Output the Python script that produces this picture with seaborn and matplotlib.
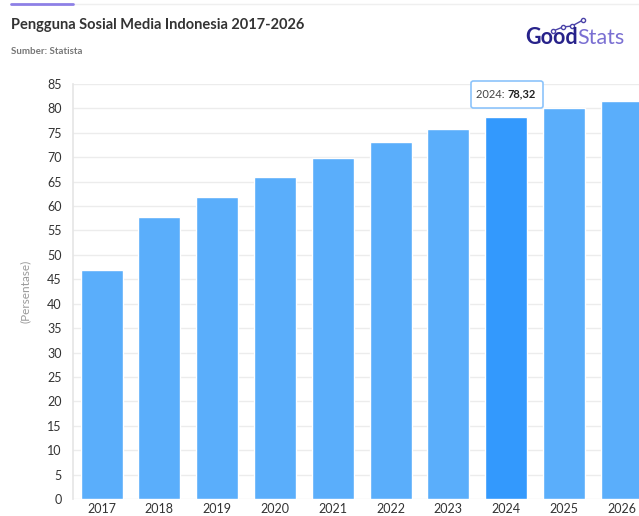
import numpy as np
import pandas as pd
import matplotlib
matplotlib.use("Agg")
import matplotlib.pyplot as plt
import seaborn as sns
from matplotlib.lines import Line2D
from matplotlib.patches import FancyBboxPatch

# data
years = ["2017", "2018", "2019", "2020", "2021", "2022", "2023", "2024", "2025", "2026"]
pengguna = [46.9, 57.8, 61.8, 66.0, 69.9, 73.1, 75.8, 78.32, 80.0, 81.6]
highlight = "2024"
yticks = list(range(0, 90, 5))

df = pd.DataFrame({"tahun": years, "persen": pengguna})

sns.set_theme(style="white")
plt.rcParams["font.family"] = ["Lato", "DejaVu Sans"]

col_bar = "#5aaefb"
col_hi = "#3399fd"
palette = {y: (col_hi if y == highlight else col_bar) for y in years}

fig = plt.figure(figsize=(6.39, 5.16), dpi=100)
# axes runs past the right edge, like the cropped screenshot
ax = fig.add_axes([72.7 / 639, 17 / 516, 578 / 639, 415 / 516])

sns.barplot(data=df, x="tahun", y="persen", hue="tahun", palette=palette,
            width=0.73, legend=False, ax=ax, saturation=1)

ax.set_ylim(0, 85)
ax.set_xlim(-0.5, len(years) - 0.5)
ax.set_yticks(yticks)
ax.set_yticklabels([str(t) for t in yticks])
ax.yaxis.grid(True, color="#ececec", lw=1)
ax.set_axisbelow(True)
for s in ["top", "right", "bottom"]:
    ax.spines[s].set_visible(False)
ax.spines["left"].set_color("#e6e6e6")
ax.tick_params(axis="y", length=5, color="#e0e0e0", labelsize=9, labelcolor="#333333", pad=3)
ax.tick_params(axis="x", length=0, labelsize=9, labelcolor="#333333", pad=3)
ax.set_xlabel("")
ax.set_ylabel("(Persentase)", fontsize=8.5, color="#999999", labelpad=12)


def text_after(t, s, **kw):
    # put a second text right after an existing figure text
    fig.canvas.draw()
    bb = t.get_window_extent()
    x = bb.x1 / fig.bbox.width
    y = t.get_position()[1]
    return fig.text(x, y, s, va="center", **kw)


# tooltip on the highlighted bar
i_hi = years.index(highlight)
box = FancyBboxPatch((471 / 639, (516 - 108) / 516), 72 / 639, 27 / 516,
                     boxstyle="round,pad=0,rounding_size=0.004",
                     transform=fig.transFigure, fc="white", ec="#8cc4fb", lw=1.2, zorder=5)
fig.add_artist(box)
t1 = fig.text(476 / 639, (516 - 94) / 516, highlight + ": ", fontsize=8,
              color="#444444", va="center", zorder=6)
text_after(t1, f"{pengguna[i_hi]:.2f}".replace(".", ","), fontsize=8,
           fontweight="bold", color="#222222", zorder=6)

# header
fig.text(11 / 639, (516 - 25) / 516, "Pengguna Sosial Media Indonesia 2017-2026",
         fontsize=10.5, fontweight="bold", color="#333333", va="center")
fig.text(11 / 639, (516 - 51) / 516, "Sumber: Statista", fontsize=7,
         fontweight="bold", color="#777777", va="center")
fig.add_artist(Line2D([73 / 639, 1], [1 - 4 / 516] * 2, transform=fig.transFigure,
                      color="#efefef", lw=1))
fig.add_artist(Line2D([11 / 639, 73 / 639], [1 - 4 / 516] * 2, transform=fig.transFigure,
                      color="#8d80e6", lw=2))

# logo
tg = fig.text(525 / 639, (516 - 38) / 516, "Good", fontsize=15.5, fontweight="bold",
              color="#27228a", va="center")
text_after(tg, "Stats", fontsize=15.5, color="#7a6fd2")
lx = np.array([553, 563, 572, 583]) / 639
ly = 1 - np.array([31, 27, 26, 20]) / 516
fig.add_artist(Line2D(lx, ly, transform=fig.transFigure, color="#4a42a8", lw=1,
                      marker="o", ms=3, mfc="white", mec="#4a42a8"))

fig.savefig("out.png", dpi=100)
